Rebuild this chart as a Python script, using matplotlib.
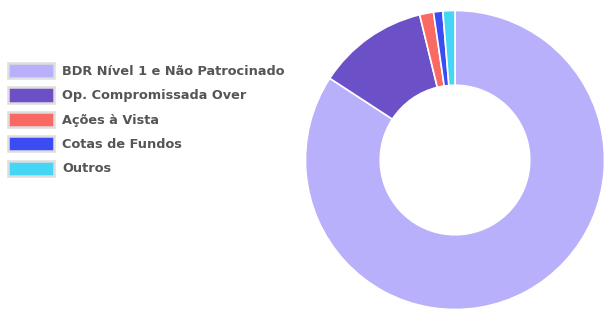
import matplotlib
matplotlib.use("Agg")
import matplotlib.pyplot as plt
from matplotlib.patches import Patch

labels = ["BDR Nível 1 e Não Patrocinado", "Op. Compromissada Over", "Ações à Vista",
          "Cotas de Fundos", "Outros"]
values = [84.2, 12.0, 1.5, 1.0, 1.3]
colors = ["#b8b0fa", "#6c50c8", "#fa6a64", "#3a4cf2", "#45d6f5"]

fig = plt.figure(figsize=(6.04, 3.15), dpi=100)
ax = fig.add_axes([304/604, 3/315, 302/604, 304/315])
ax.pie(values, colors=colors, startangle=90, counterclock=False,
       wedgeprops=dict(width=0.5, edgecolor="white", linewidth=1.2), radius=1)
ax.set_xlim(-1.01, 1.01)
ax.set_ylim(-1.01, 1.01)
ax.set_aspect("equal")
ax.axis("off")

handles = [Patch(facecolor=c, edgecolor="#dddddd", linewidth=1.8) for c in colors]
fig.legend(handles, labels, loc="upper left", bbox_to_anchor=(0.013, 0.8),
           frameon=False, handlelength=3.6, handleheight=1.45, handletextpad=0.62,
           labelspacing=0.7, borderpad=0, borderaxespad=0,
           prop=dict(size=9.3, weight="bold"), labelcolor="#555555")

fig.savefig("out.png", dpi=100)
